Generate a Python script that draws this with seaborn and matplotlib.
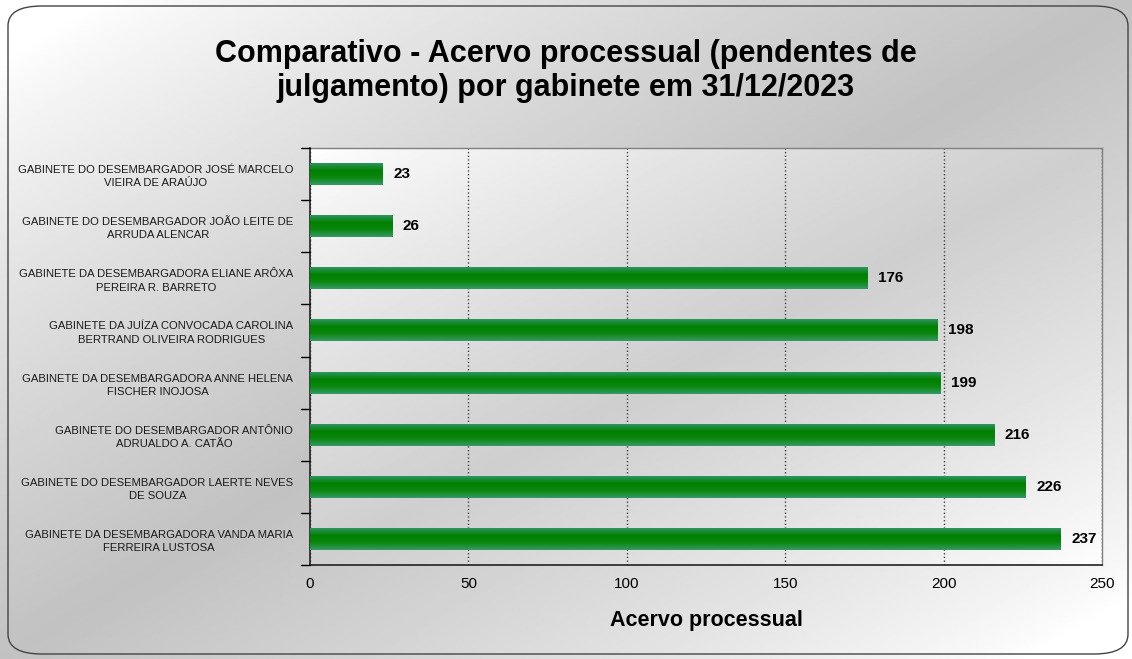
import numpy as np
import pandas as pd
import seaborn as sns
import matplotlib.pyplot as plt
from matplotlib.patches import FancyBboxPatch
from matplotlib.colors import LinearSegmentedColormap

# ==========================================================
# Data
# ==========================================================

gabinetes = [
    "GABINETE DO DESEMBARGADOR JOSÉ MARCELO\nVIEIRA DE ARAÚJO",
    "GABINETE DO DESEMBARGADOR JOÃO LEITE DE\nARRUDA ALENCAR",
    "GABINETE DA DESEMBARGADORA ELIANE ARÔXA\nPEREIRA R. BARRETO",
    "GABINETE DA JUÍZA CONVOCADA CAROLINA\nBERTRAND OLIVEIRA RODRIGUES",
    "GABINETE DA DESEMBARGADORA ANNE HELENA\nFISCHER INOJOSA",
    "GABINETE DO DESEMBARGADOR ANTÔNIO\nADRUALDO A. CATÃO",
    "GABINETE DO DESEMBARGADOR LAERTE NEVES\nDE SOUZA",
    "GABINETE DA DESEMBARGADORA VANDA MARIA\nFERREIRA LUSTOSA",
]
acervo = [23, 26, 176, 198, 199, 216, 226, 237]
x_ticks = [0, 50, 100, 150, 200, 250]

df = pd.DataFrame({"gabinete": gabinetes, "acervo": acervo})

# ==========================================================
# Figure
# ==========================================================

sns.set_style("white")
plt.rcParams["font.family"] = ["Liberation Sans", "DejaVu Sans"]
plt.rcParams["text.color"] = "black"
plt.rcParams["axes.labelcolor"] = "black"
plt.rcParams["xtick.color"] = "black"
plt.rcParams["ytick.color"] = "black"

fig = plt.figure(figsize=(11.32, 6.59), dpi=100)

# background gradient (white corners, gray diagonal band)
bg = fig.add_axes([0, 0, 1, 1], zorder=-10)
yy, xx = np.mgrid[0:1:300j, 0:1:500j]
t = (xx + yy) / 2
shade = 1 - 0.24 * np.clip(1 - np.abs(t - 0.5) * 2.2, 0, 1) ** 0.8
bg.imshow(shade, cmap="gray", vmin=0, vmax=1, aspect="auto",
          extent=[0, 1, 0, 1], origin="upper")
bg.axis("off")
bg.set_xlim(0, 1)
bg.set_ylim(0, 1)

# rounded border
border = FancyBboxPatch((8 / 1132, 5 / 659), 1120 / 1132, 648 / 659,
                        boxstyle="round,pad=0,rounding_size=0.03",
                        transform=fig.transFigure, fill=False,
                        edgecolor="#444444", linewidth=1.0)
fig.patches.append(border)

ax = fig.add_axes([310 / 1132, 1 - 565 / 659, 792 / 1132, 417 / 659])

sns.barplot(data=df, x="acervo", y="gabinete", orient="h",
            color="#008000", width=0.42, linewidth=0, ax=ax, zorder=3)

# plot area gradient
ax.imshow(1 - 0.19 * np.clip(1 - np.abs(t - 0.5) * 2, 0, 1) ** 0.8,
          cmap="gray", vmin=0, vmax=1,
          aspect="auto", extent=[0, 250, len(gabinetes) - 0.5, -0.5],
          zorder=0)

# bar gradient
bar_cmap = LinearSegmentedColormap.from_list(
    "barra", ["#2f9460", "#008000", "#0b870f", "#359a66"])
grad = np.linspace(0, 1, 64).reshape(-1, 1)
for bar in ax.patches:
    x0, y0 = bar.get_x(), bar.get_y()
    w, h = bar.get_width(), bar.get_height()
    im = ax.imshow(grad, cmap=bar_cmap, aspect="auto",
                   extent=[x0, x0 + w, y0 + h, y0], zorder=4)
    im.set_clip_path(bar)

ax.set_xlim(0, 250)
ax.set_ylim(len(gabinetes) - 0.5, -0.5)

# value labels
for i, v in enumerate(acervo):
    ax.text(v + 3.3, i, str(v), va="center", ha="left",
            fontsize=11, fontweight="bold", zorder=5)

ax.xaxis.grid(True, color="#444444", linestyle=":", linewidth=1.0)
for line in ax.get_xgridlines():
    line.set_zorder(1)

ax.set_xticks(x_ticks)
ax.set_xticklabels([str(v) for v in x_ticks], fontsize=11)
ax.set_yticks(np.arange(len(gabinetes)))
ax.set_yticklabels(gabinetes, fontsize=8.1, multialignment="center",
                   linespacing=1.4, color="#1a1a1a")
ax.tick_params(axis="y", length=0, pad=12)
ax.tick_params(axis="x", length=5, width=1, direction="out", color="#222222",
               pad=4)

# category separator ticks on the y axis
for k in np.arange(-0.5, len(gabinetes), 1.0):
    ax.plot([-0.011, 0], [k, k], transform=ax.get_yaxis_transform(),
            color="black", linewidth=1, clip_on=False, zorder=6)

for side in ["left", "bottom"]:
    ax.spines[side].set_color("#222222")
    ax.spines[side].set_linewidth(1.2)
for side in ["top", "right"]:
    ax.spines[side].set_color("#808080")
    ax.spines[side].set_linewidth(1.0)

ax.set_ylabel("")
ax.set_xlabel("Acervo processual", fontsize=15.5, fontweight="bold",
              labelpad=13)

fig.text(0.5, 0.892,
         "Comparativo - Acervo processual (pendentes de\njulgamento) por gabinete em 31/12/2023",
         ha="center", va="center", fontsize=22, fontweight="bold",
         linespacing=1.15)

fig.savefig("out.png", dpi=100)
